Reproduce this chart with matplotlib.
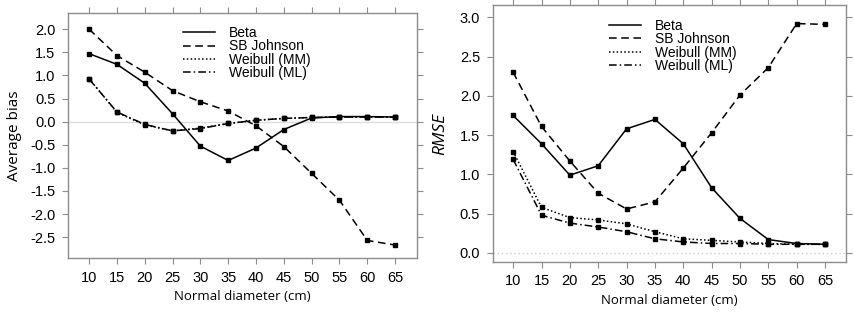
import matplotlib.pyplot as plt
import numpy as np
from matplotlib.lines import Line2D

diameters = [10, 15, 20, 25, 30, 35, 40, 45, 50, 55, 60, 65]

bias_beta = [1.47, 1.24, 0.83, 0.17, -0.53, -0.84, -0.57, -0.17, 0.08, 0.11, 0.11, 0.10]
bias_sbj = [2.00, 1.43, 1.07, 0.67, 0.43, 0.23, -0.09, -0.54, -1.12, -1.70, -2.57, -2.67]
bias_wmm = [0.93, 0.20, -0.07, -0.20, -0.14, -0.04, 0.03, 0.07, 0.09, 0.10, 0.10, 0.10]
bias_wml = [0.92, 0.21, -0.06, -0.20, -0.15, -0.04, 0.03, 0.07, 0.09, 0.10, 0.10, 0.10]

rmse_beta = [1.75, 1.39, 0.99, 1.11, 1.58, 1.70, 1.39, 0.83, 0.44, 0.17, 0.12, 0.11]
rmse_sbj = [2.30, 1.61, 1.17, 0.76, 0.56, 0.65, 1.08, 1.53, 2.01, 2.36, 2.92, 2.91]
rmse_wmm = [1.29, 0.58, 0.45, 0.42, 0.37, 0.27, 0.18, 0.16, 0.14, 0.12, 0.11, 0.11]
rmse_wml = [1.19, 0.48, 0.38, 0.33, 0.27, 0.18, 0.14, 0.12, 0.12, 0.11, 0.11, 0.11]

labels = ["Beta", "SB Johnson", "Weibull (MM)", "Weibull (ML)"]
styles = ["-", (0, (5, 3)), (0, (1, 1.5)), (0, (5, 2, 1, 2))]

plt.rcParams['font.family'] = ['Liberation Sans', 'DejaVu Sans']

fig = plt.figure(figsize=(8.55, 3.16), dpi=100)
ax1 = fig.add_axes([0.0795, 0.1835, 0.408, 0.7753])
ax2 = fig.add_axes([0.5763, 0.171, 0.4132, 0.813])


def draw(ax, series, ylim, yticks, ylabel, ylab_size, zero_style, italic, leg_anchor, ylab_x):
    if zero_style == "solid":
        ax.axhline(0, color="#dddddd", lw=1.0, zorder=0)
    else:
        ax.axhline(0, color="#cccccc", lw=1.0, ls=(0, (1, 2)), zorder=0)
    for ys, ls in zip(series, styles):
        ax.plot(diameters, ys, color="black", ls=ls, lw=1.1)
        ax.plot(diameters, ys, ls="none", marker="s", ms=3.2, color="black")
    ax.set_xlim(6.2, 68.9)
    ax.set_ylim(*ylim)
    ax.set_xticks(diameters)
    ax.set_yticks(yticks)
    ax.set_yticklabels([f"{v:.1f}" for v in yticks])
    for sp in ax.spines.values():
        sp.set_color("#8c8c8c")
        sp.set_linewidth(1.0)
    ax.tick_params(axis="both", direction="out", length=4, color="#8c8c8c",
                   labelsize=10.5, top=True, right=True, pad=5)
    ax.set_xlabel("Normal diameter (cm)", fontsize=9.5, family=["Open Sans", "DejaVu Sans"],
                  labelpad=4)
    ax.set_ylabel(ylabel, fontsize=ylab_size, family=["Open Sans", "DejaVu Sans"],
                  style="italic" if italic else "normal")
    ax.yaxis.set_label_coords(ylab_x, 0.5)
    handles = [Line2D([0], [0], color="black", ls=ls, lw=1.1) for ls in styles]
    ax.legend(handles, labels, loc="upper left", bbox_to_anchor=leg_anchor,
              frameon=False, fontsize=10, handlelength=2.3, handletextpad=1.0,
              labelspacing=-0.05, borderpad=0)


draw(ax1, [bias_beta, bias_sbj, bias_wmm, bias_wml], (-2.95, 2.35),
     np.arange(-2.5, 2.01, 0.5), "Average bias", 11, "solid", False, (0.31, 0.975), -0.132)
draw(ax2, [rmse_beta, rmse_sbj, rmse_wmm, rmse_wml], (-0.115, 3.156),
     np.arange(0.0, 3.01, 0.5), "RMSE", 12.5, "dotted", True, (0.31, 0.973), -0.127)
ax2.set_xlim(6.4, 68.7)

fig.savefig("out.png", dpi=100)
